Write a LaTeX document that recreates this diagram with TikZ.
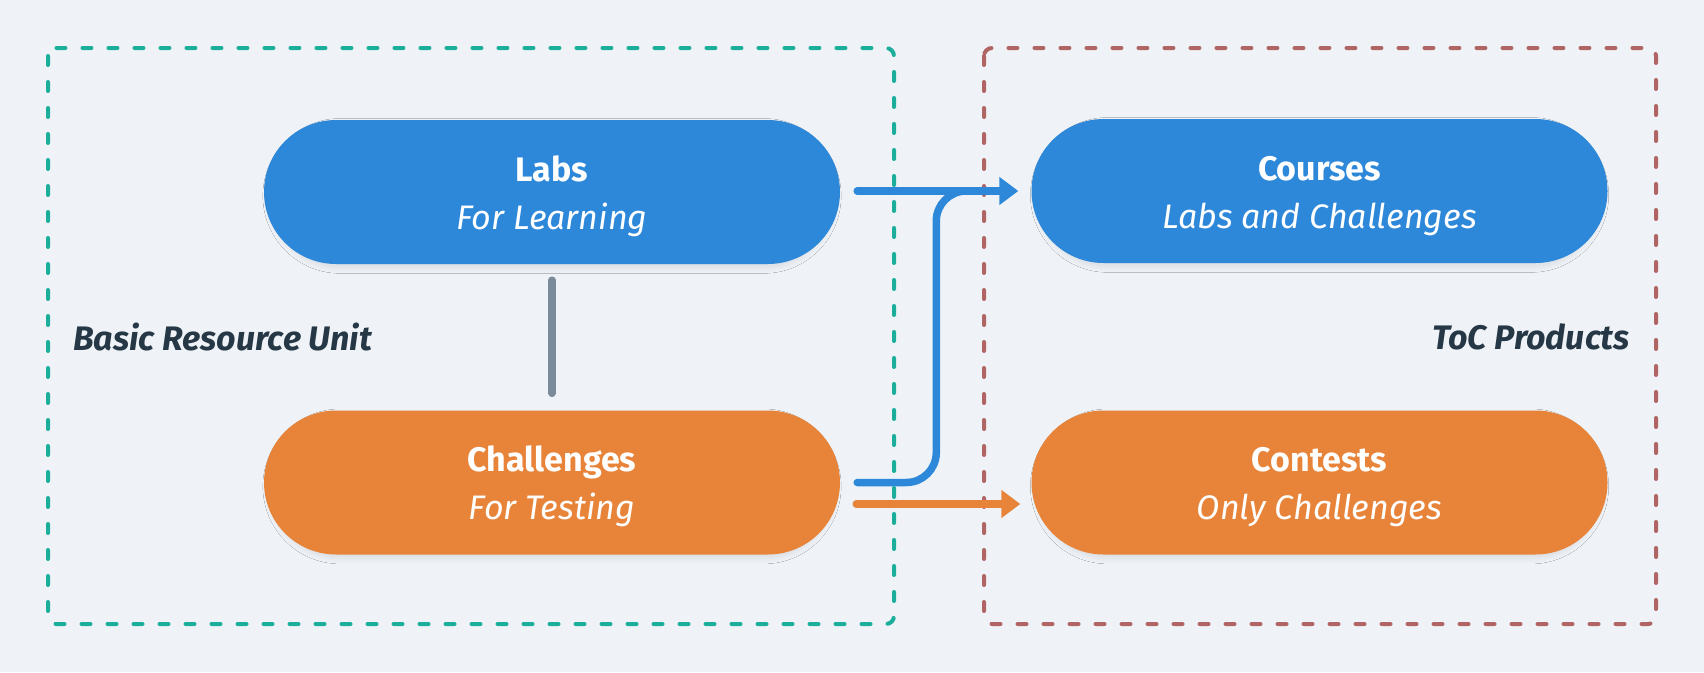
\documentclass[tikz,border=0pt]{standalone}
\usepackage{fontspec}
\setmainfont{Fira Sans}
\usetikzlibrary{arrows.meta,shadows.blur}

\definecolor{bgcol}{HTML}{EFF3F7}
\definecolor{blueA}{HTML}{2D88D9}
\definecolor{orangeA}{HTML}{E8843A}
\definecolor{greenA}{HTML}{1BAE9A}
\definecolor{redA}{HTML}{B06464}
\definecolor{inkA}{HTML}{263746}
\definecolor{greyA}{HTML}{7A8B99}

\newcommand{\toplift}{\rule{0pt}{34pt}}

\tikzset{
  pill/.style={rectangle, rounded corners=72pt, minimum width=576pt,
    minimum height=144pt, text=white, align=center, inner sep=0pt,
    font=\fontsize{34}{48}\selectfont,
    blur shadow={shadow xshift=0pt, shadow yshift=-4pt, shadow blur radius=7pt,
      shadow blur steps=14, shadow opacity=12, shadow scale=0.98}},
  bluepill/.style={pill, fill=blueA},
  orangepill/.style={pill, fill=orangeA},
  groupbox/.style={line width=4pt, line cap=round, dash pattern=on 9pt off 17pt,
    rounded corners=8pt},
  grouplabel/.style={text=inkA, inner sep=0pt,
    font=\fontsize{34}{40}\selectfont\bfseries\itshape},
  link/.style={line width=7.5pt, line cap=round},
  arrowlink/.style={link, -{Triangle[length=19pt,width=27pt]}},
}

\begin{document}
\begin{tikzpicture}[x=1pt, y=-1pt]
  % canvas
  \fill[bgcol] (0,0) rectangle (1704,672);
  \useasboundingbox (0,0) rectangle (1704,672);

  % group frames
  \draw[groupbox, greenA] (48,48) rectangle (894,624);
  \draw[groupbox, redA] (984,48) rectangle (1656,624);

  \node[grouplabel, anchor=west] (unitlabel) at (73,337) {Basic Resource Unit};
  \node[grouplabel, anchor=east] (toclabel) at (1630,337) {ToC Products};

  % resource and product nodes
  \node[bluepill] (labs) at (552,192)
    {\toplift\textbf{Labs}\\\textit{For Learning}};
  \node[orangepill] (challenges) at (552,482.5)
    {\toplift\textbf{Challenges}\\\textit{For Testing}};
  \node[bluepill] (courses) at (1319.5,191)
    {\toplift\textbf{Courses}\\\textit{Labs and Challenges}};
  \node[orangepill] (contests) at (1319.5,482.5)
    {\toplift\textbf{Contests}\\\textit{Only Challenges}};

  % pairing between labs and challenges
  \draw[link, greyA, shorten <=16pt, shorten >=17pt] (labs.south) -- (challenges.north);

  % challenges also feed courses
  \draw[link, blueA, rounded corners=30pt]
    ([xshift=17pt]challenges.east) -| ([xshift=-95pt]courses.west)
    -- ([xshift=-30pt]courses.west);

  \draw[arrowlink, blueA, shorten <=17pt, shorten >=13pt] (labs.east |- courses.west) -- (courses.west);
  \draw[arrowlink, orangeA, shorten <=16pt, shorten >=11pt]
    ([yshift=-21.5pt]challenges.east) -- ([yshift=-21.5pt]contests.west);
\end{tikzpicture}
\end{document}
